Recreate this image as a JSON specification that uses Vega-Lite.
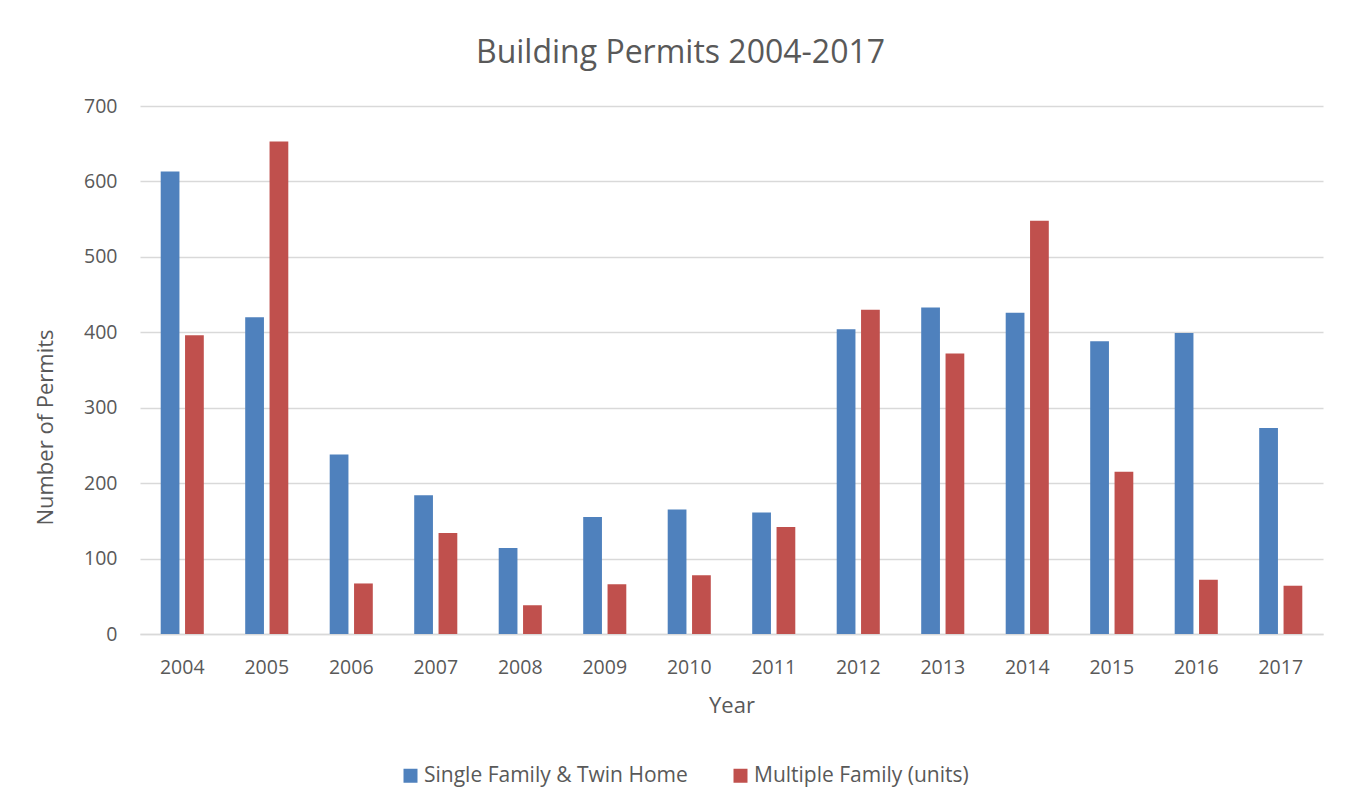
{
  "$schema": "https://vega.github.io/schema/vega-lite/v6.json",
  "autosize": {"type": "none"},
  "padding": {"left": 140, "top": 106, "right": 30, "bottom": 176},
  "width": 1183,
  "height": 528,
  "background": "white",
  "title": {"text": "Building Permits 2004-2017", "fontSize": 32, "font": "Open Sans", "fontWeight": "normal", "color": "#595959", "anchor": "middle", "dx": -51, "offset": 26},
  "data": {"values": [
    {"year": "2004", "series": "Single Family & Twin Home", "permits": 613},
    {"year": "2004", "series": "Multiple Family (units)", "permits": 396},
    {"year": "2005", "series": "Single Family & Twin Home", "permits": 420},
    {"year": "2005", "series": "Multiple Family (units)", "permits": 653},
    {"year": "2006", "series": "Single Family & Twin Home", "permits": 238},
    {"year": "2006", "series": "Multiple Family (units)", "permits": 67},
    {"year": "2007", "series": "Single Family & Twin Home", "permits": 184},
    {"year": "2007", "series": "Multiple Family (units)", "permits": 134},
    {"year": "2008", "series": "Single Family & Twin Home", "permits": 114},
    {"year": "2008", "series": "Multiple Family (units)", "permits": 38},
    {"year": "2009", "series": "Single Family & Twin Home", "permits": 155},
    {"year": "2009", "series": "Multiple Family (units)", "permits": 66},
    {"year": "2010", "series": "Single Family & Twin Home", "permits": 165},
    {"year": "2010", "series": "Multiple Family (units)", "permits": 78},
    {"year": "2011", "series": "Single Family & Twin Home", "permits": 161},
    {"year": "2011", "series": "Multiple Family (units)", "permits": 142},
    {"year": "2012", "series": "Single Family & Twin Home", "permits": 404},
    {"year": "2012", "series": "Multiple Family (units)", "permits": 430},
    {"year": "2013", "series": "Single Family & Twin Home", "permits": 433},
    {"year": "2013", "series": "Multiple Family (units)", "permits": 372},
    {"year": "2014", "series": "Single Family & Twin Home", "permits": 426},
    {"year": "2014", "series": "Multiple Family (units)", "permits": 548},
    {"year": "2015", "series": "Single Family & Twin Home", "permits": 388},
    {"year": "2015", "series": "Multiple Family (units)", "permits": 215},
    {"year": "2016", "series": "Single Family & Twin Home", "permits": 399},
    {"year": "2016", "series": "Multiple Family (units)", "permits": 72},
    {"year": "2017", "series": "Single Family & Twin Home", "permits": 273},
    {"year": "2017", "series": "Multiple Family (units)", "permits": 64}
  ]},
  "mark": {"type": "bar"},
  "encoding": {
    "x": {"field": "year", "type": "ordinal", "scale": {"paddingInner": 0.49, "paddingOuter": 0.245},
      "axis": {"title": "Year", "labelAngle": 0, "ticks": false, "tickSize": 0, "domainColor": "#d9d9d9", "domainWidth": 1.5, "labelPadding": 39, "labelBaseline": "alphabetic", "titleY": 78, "titleBaseline": "alphabetic"}},
    "xOffset": {"field": "series", "type": "nominal", "scale": {"domain": ["Single Family & Twin Home", "Multiple Family (units)"], "paddingInner": 0.23, "paddingOuter": 0}},
    "y": {"field": "permits", "type": "quantitative", "scale": {"domain": [0, 700]},
      "axis": {"title": "Number of Permits", "values": [0, 100, 200, 300, 400, 500, 600, 700], "domain": false, "ticks": false, "tickSize": 0, "labelPadding": 23, "gridColor": "#d9d9d9", "gridWidth": 1.5, "titleX": -88, "titleY": 321, "titleBaseline": "alphabetic"}},
    "color": {"field": "series", "type": "nominal",
      "scale": {"domain": ["Single Family & Twin Home", "Multiple Family (units)"], "range": ["#4f81bd", "#c0504d"]},
      "legend": {"title": null, "orient": "none", "legendX": 260, "legendY": 659, "direction": "horizontal", "symbolType": "square", "symbolSize": 196, "labelFontSize": 21, "labelLimit": 500, "columnPadding": 42, "labelOffset": 3, "padding": 0, "symbolStrokeWidth": 0, "symbolOpacity": 1}}
  },
  "config": {
    "view": {"stroke": null},
    "font": "Open Sans",
    "axis": {"labelFont": "Open Sans", "labelFontSize": 19.5, "labelColor": "#595959", "titleFont": "Open Sans", "titleFontSize": 22, "titleColor": "#595959", "titleFontWeight": "normal"},
    "legend": {"labelFont": "Open Sans", "labelColor": "#595959"}
  }
}
